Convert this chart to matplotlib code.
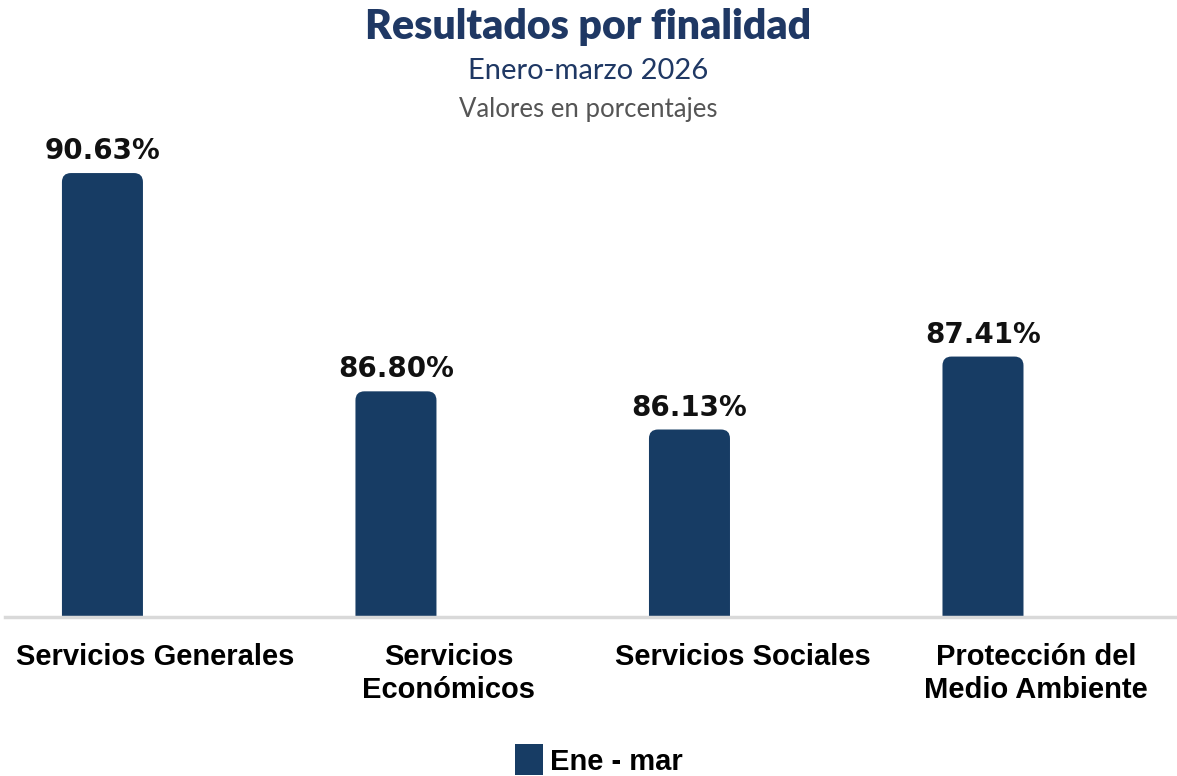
import matplotlib.pyplot as plt
from matplotlib.patches import FancyBboxPatch, Patch

categorias = ["Servicios Generales", "Servicios\nEconómicos", "Servicios Sociales", "Protección del\nMedio Ambiente"]
valores = [90.63, 86.80, 86.13, 87.41]
serie = "Ene - mar"

azul = "#173c64"
titulo_color = "#1f3864"

fig = plt.figure(figsize=(11.77, 7.76), dpi=100)
ax = fig.add_axes([5 / 1177, 159 / 776, 1172 / 1177, 477 / 776])

x = list(range(len(categorias)))
ymin, ymax = 82.84, 91.21
ax.set_xlim(-0.332, 3.661)
ax.set_ylim(ymin, ymax)

ancho = 0.276
# px per unit for rounded corners
px_x = 1172 / (3.661 + 0.332)
px_y = 477 / (ymax - ymin)
radio = 9 / px_x
for xi, v in zip(x, valores):
    caja = FancyBboxPatch((xi - ancho / 2, ymin - 1), ancho, v - ymin + 1,
                          boxstyle=f"round,pad=0,rounding_size={radio}",
                          mutation_aspect=px_x / px_y,
                          facecolor=azul, edgecolor="none", zorder=2)
    ax.add_patch(caja)
    ax.text(xi, v + 8 / px_y, f"{v:.2f}%", ha="center", va="bottom",
            fontsize=20, fontweight="bold", family="DejaVu Sans", color="#111111")

for s in ["top", "right", "left"]:
    ax.spines[s].set_visible(False)
ax.spines["bottom"].set_color("#d9d9d9")
ax.spines["bottom"].set_linewidth(2.5)
ax.set_yticks([])
# labels sit a bit right of the bar centres in the original
ax.set_xticks([xi + 53 / px_x for xi in x])
ax.set_xticklabels(categorias, fontsize=21, fontweight="bold",
                   family=["Liberation Sans", "DejaVu Sans"], linespacing=1.2)
ax.tick_params(axis="x", length=0, pad=19)

fig.text(0.5, 1 - 27 / 776, "Resultados por finalidad", ha="center", va="center",
         fontsize=29.5, fontweight="heavy", color=titulo_color, family=["Lato", "DejaVu Sans"])
fig.text(0.5, 1 - 71 / 776, "Enero-marzo 2026", ha="center", va="center",
         fontsize=21, color=titulo_color, family=["Lato", "DejaVu Sans"])
fig.text(0.5, 1 - 109 / 776, "Valores en porcentajes", ha="center", va="center",
         fontsize=18.5, color="#555555", family=["Lato", "DejaVu Sans"])

leg = fig.legend(handles=[Patch(facecolor=azul, label=serie)], loc="center",
                 bbox_to_anchor=(0.509, 1 - 760 / 776), frameon=False, handlelength=0.95,
                 handleheight=1.25, handletextpad=0.25,
                 prop={"size": 21, "weight": "bold", "family": ["Liberation Sans", "DejaVu Sans"]})

fig.savefig("out.png", dpi=100)
